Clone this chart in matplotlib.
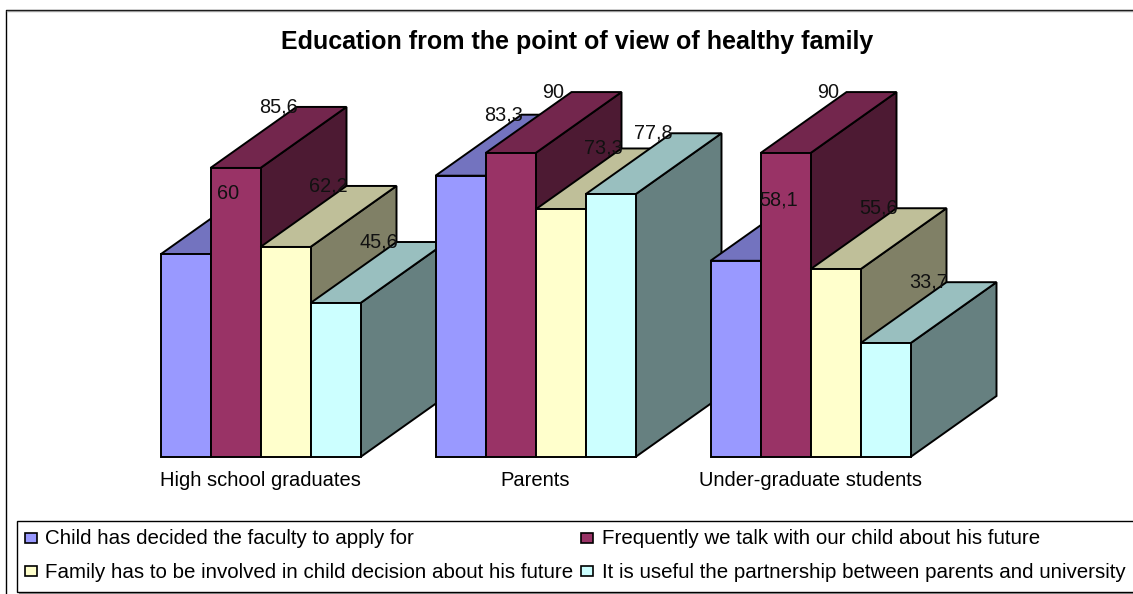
import matplotlib.pyplot as plt
from matplotlib.patches import Polygon, Rectangle

plt.rcParams['font.family'] = ['Liberation Sans', 'DejaVu Sans']

title = 'Education from the point of view of healthy family'
categories = ['High school graduates', 'Parents', 'Under-graduate students']
series_names = ['Child has decided the faculty to apply for',
                'Frequently we talk with our child about his future',
                'Family has to be involved in child decision about his future',
                'It is useful the partnership between parents and university']
decided = [60, 83.3, 58.1]
talk = [85.6, 90, 90]
involved = [62.2, 73.3, 55.6]
partnership = [45.6, 77.8, 33.7]
labels = [['60', '83,3', '58,1'], ['85,6', '90', '90'],
          ['62,2', '73,3', '55,6'], ['45,6', '77,8', '33,7']]
front_colors = ['#9999ff', '#993366', '#ffffcc', '#ccffff']
top_colors = ['#7373bf', '#73264d', '#bfbf99', '#99bfbf']
side_colors = ['#4d4d80', '#4d1a33', '#808066', '#668080']

W, H = 1133, 594
base_y = 457
scale = 3.377
bar_w = 50
dx, dy = 86, 61
group_x = [160.5, 435.5, 710.5]

fig = plt.figure(figsize=(W / 100, H / 100), dpi=100)
ax = fig.add_axes([0, 0, 1, 1])
ax.set_xlim(0, W)
ax.set_ylim(H, 0)
ax.axis('off')

# outer frame
ax.plot([6, 6, W], [H, 10, 10], color='black', lw=1)
ax.plot([7, W], [11, 11], color='#999999', lw=1)

ax.text(577, 42, title, ha='center', va='center', fontsize=18, fontweight='bold')

all_series = [decided, talk, involved, partnership]
for g, gx in enumerate(group_x):
    for s, vals in enumerate(all_series):
        x0 = gx + s * bar_w
        x1 = x0 + bar_w
        top = base_y - vals[g] * scale
        ax.add_patch(Polygon([(x1, base_y), (x1 + dx, base_y - dy), (x1 + dx, top - dy), (x1, top)],
                             fc=side_colors[s], ec='black', lw=1.4, joinstyle='miter'))
        ax.add_patch(Polygon([(x0, top), (x0 + dx, top - dy), (x1 + dx, top - dy), (x1, top)],
                             fc=top_colors[s], ec='black', lw=1.4, joinstyle='miter'))
        ax.add_patch(Rectangle((x0, top), bar_w, base_y - top,
                               fc=front_colors[s], ec='black', lw=1.4))

# data labels go on top of all the bars
for g, gx in enumerate(group_x):
    for s, vals in enumerate(all_series):
        top = base_y - vals[g] * scale
        ax.text(gx + s * bar_w + 68, top - dy, labels[s][g],
                ha='center', va='center', fontsize=14.3, color='#111111')

for c, gx in zip(categories, group_x):
    ax.text(gx + 100, 480, c, ha='center', va='center', fontsize=14.5)

# legend
ax.add_patch(Rectangle((19, 524), W, 70, fc='#999999', ec='none'))
ax.add_patch(Rectangle((17, 521), W, 71, fc='white', ec='black', lw=1))
square_x = [25, 581]
text_x = [45, 602]
leg_y = [539, 572]
for i, name in enumerate(series_names):
    ly = leg_y[i // 2]
    ax.add_patch(Rectangle((square_x[i % 2], ly - 6), 12, 10, fc=front_colors[i], ec='black', lw=1.2))
    ax.text(text_x[i % 2], ly, name, ha='left', va='center', fontsize=14.8)

fig.savefig('out.png', dpi=100)
